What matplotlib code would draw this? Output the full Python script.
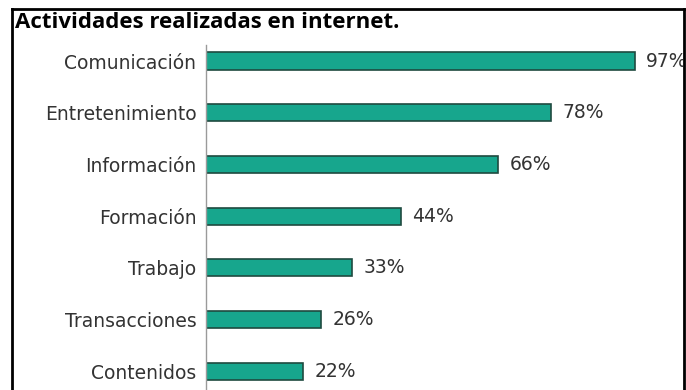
import matplotlib.pyplot as plt
from matplotlib.lines import Line2D

# datos: porcentaje de usuarios por actividad
categorias = ["Comunicación", "Entretenimiento", "Información", "Formación",
              "Trabajo", "Transacciones", "Contenidos"]
porcentajes = [97, 78, 66, 44, 33, 26, 22]
titulo = "Actividades realizadas en internet."

W, H = 686, 390
fig = plt.figure(figsize=(W / 100, H / 100), dpi=100)
fig.patch.set_facecolor("white")

# ejes: eje vertical en x=206 px, bordes hasta el marco derecho
x0, x1 = 206 / W, 683 / W
ax = fig.add_axes([x0, 0.0, x1 - x0, 1 - 45 / H])
ax.set_xlim(0, 107.9)
ax.set_ylim(6.36, -0.31)

pos = list(range(len(categorias)))
ax.barh(pos, porcentajes, height=0.33, color="#17a68d",
        edgecolor="#1f4a40", linewidth=1.2)

fuente = "DejaVu Sans"
for p, v in zip(pos, porcentajes):
    ax.text(v + 2.6, p, f"{v}%", va="center", ha="left",
            fontsize=13.5, family=fuente, color="#333333", clip_on=True)

ax.set_yticks(pos)
ax.set_yticklabels(categorias, fontsize=13.5, family=fuente, color="#333333")
ax.tick_params(axis="y", length=0, pad=7)
ax.set_xticks([])
for s in ["top", "right", "bottom"]:
    ax.spines[s].set_visible(False)
ax.spines["left"].set_color("#9a9a9a")
ax.spines["left"].set_linewidth(1.0)

# marco negro abierto por abajo
fl, fr, ft = 12 / W, 684 / W, 1 - 9 / H
for xs, ys in [([fl, fl], [0, ft]), ([fl, fr], [ft, ft]), ([fr, fr], [ft, 0])]:
    fig.add_artist(Line2D(xs, ys, color="black", linewidth=2.0,
                          transform=fig.transFigure))

fig.text(15 / W, 1 - 22 / H, titulo, fontsize=16, fontweight="bold",
         family="Open Sans", va="center", ha="left", color="black")

fig.savefig("out.png", dpi=100)
